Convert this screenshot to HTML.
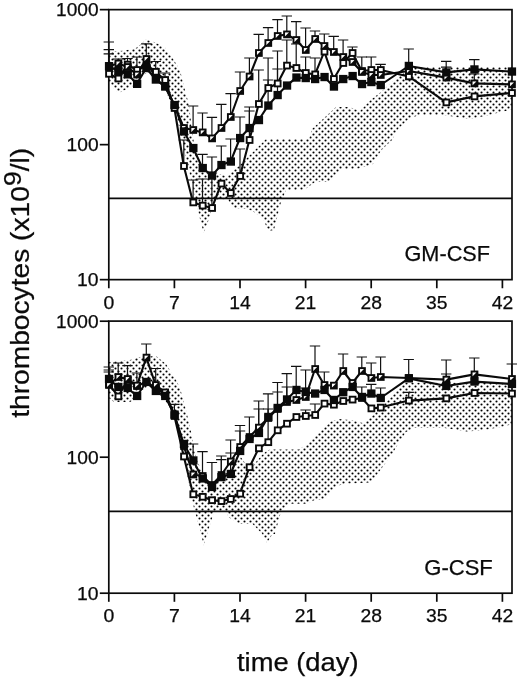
<!DOCTYPE html><html><head><meta charset="utf-8"><title>thrombocytes</title>
<style>html,body{margin:0;padding:0;background:#fff}svg{display:block}text{font-family:"Liberation Sans",Arial,Helvetica,sans-serif;fill:#0a0a0a;stroke:#0a0a0a;stroke-width:0.25}</style></head><body>
<svg width="520" height="680" viewBox="0 0 520 680">
<defs><pattern id="dots" x="0" y="1" width="6" height="6" patternUnits="userSpaceOnUse"><circle cx="1.5" cy="1.5" r="1.08" fill="#000"/><circle cx="4.5" cy="4.5" r="1.08" fill="#000"/></pattern></defs>
<rect width="520" height="680" fill="#fff"/>
<path d="M108.8,51.5 L123.0,50.8 L135.4,48.5 L141.5,43.8 L146.0,39.5 L153.8,42.0 L164.6,47.0 L172.3,57.7 L180.0,70.0 L184.0,86.5 L189.0,105.0 L191.5,126.0 L194.5,147.0 L201.0,166.0 L209.0,171.0 L226.0,176.0 L239.0,166.0 L250.0,155.0 L266.0,139.0 L309.0,139.0 L312.0,129.0 L323.0,119.0 L336.0,107.0 L349.0,107.0 L360.0,111.0 L370.6,100.0 L381.0,92.0 L392.0,82.0 L400.6,74.0 L411.0,67.0 L512.0,67.0 L512.0,109.5 L501.0,112.0 L485.0,116.0 L469.0,119.0 L443.0,115.0 L419.0,115.0 L408.5,119.0 L398.0,129.0 L392.0,140.0 L381.0,150.6 L373.0,164.0 L357.0,169.0 L341.5,169.0 L328.0,182.0 L315.0,182.0 L304.0,190.0 L286.0,190.0 L280.6,203.5 L274.0,230.0 L268.5,231.0 L263.0,219.0 L252.6,211.0 L247.0,209.0 L232.0,208.0 L228.0,199.0 L214.0,200.0 L209.0,219.0 L203.7,233.0 L200.0,219.0 L194.0,192.0 L186.5,160.0 L176.0,113.0 L165.0,90.0 L157.0,80.0 L150.0,72.0 L142.0,75.0 L137.0,84.0 L131.0,87.0 L118.5,93.0 L112.0,87.0 L108.8,81.0Z" fill="url(#dots)" stroke="none"/>
<line x1="108.8" y1="198.37" x2="512.0" y2="198.37" stroke="#0a0a0a" stroke-width="1.7"/>
<rect x="108.8" y="9.65" width="403.2" height="270.00" fill="none" stroke="#0a0a0a" stroke-width="1.7"/>
<path d="M108.8,73.8 V49.7 M103.6,49.7 H114.0" stroke="#111" stroke-width="1.2" fill="none"/>
<path d="M127.5,64.6 V58.5 M122.3,58.5 H132.7" stroke="#111" stroke-width="1.2" fill="none"/>
<path d="M136.9,70.0 V57.0 M131.7,57.0 H142.1" stroke="#111" stroke-width="1.2" fill="none"/>
<path d="M183.8,166.0 V140.0 M178.6,140.0 H189.0" stroke="#111" stroke-width="1.2" fill="none"/>
<path d="M193.1,202.4 V180.0 M187.9,180.0 H198.3" stroke="#111" stroke-width="1.2" fill="none"/>
<path d="M202.5,205.6 V179.0 M197.3,179.0 H207.7" stroke="#111" stroke-width="1.2" fill="none"/>
<path d="M211.9,208.0 V173.0 M206.7,173.0 H217.1" stroke="#111" stroke-width="1.2" fill="none"/>
<path d="M240.0,176.0 V149.0 M234.8,149.0 H245.2" stroke="#111" stroke-width="1.2" fill="none"/>
<path d="M249.4,140.0 V111.0 M244.2,111.0 H254.6" stroke="#111" stroke-width="1.2" fill="none"/>
<path d="M258.7,104.0 V70.0 M253.5,70.0 H263.9" stroke="#111" stroke-width="1.2" fill="none"/>
<path d="M268.1,88.0 V58.0 M262.9,58.0 H273.3" stroke="#111" stroke-width="1.2" fill="none"/>
<path d="M277.5,83.5 V51.0 M272.3,51.0 H282.7" stroke="#111" stroke-width="1.2" fill="none"/>
<path d="M286.8,65.6 V40.0 M281.6,40.0 H292.0" stroke="#111" stroke-width="1.2" fill="none"/>
<path d="M296.2,68.0 V44.0 M291.0,44.0 H301.4" stroke="#111" stroke-width="1.2" fill="none"/>
<path d="M305.6,73.0 V57.0 M300.4,57.0 H310.8" stroke="#111" stroke-width="1.2" fill="none"/>
<path d="M315.0,74.4 V58.0 M309.8,58.0 H320.2" stroke="#111" stroke-width="1.2" fill="none"/>
<path d="M352.4,53.0 V47.0 M347.2,47.0 H357.6" stroke="#111" stroke-width="1.2" fill="none"/>
<path d="M371.2,70.0 V57.0 M366.0,57.0 H376.4" stroke="#111" stroke-width="1.2" fill="none"/>
<path d="M380.6,70.0 V64.4 M375.4,64.4 H385.8" stroke="#111" stroke-width="1.2" fill="none"/>
<path d="M108.8,66.0 V42.0 M103.6,42.0 H114.0" stroke="#111" stroke-width="1.2" fill="none"/>
<path d="M118.2,63.5 V59.0 M113.0,59.0 H123.4" stroke="#111" stroke-width="1.2" fill="none"/>
<path d="M146.3,59.0 V43.8 M141.1,43.8 H151.5" stroke="#111" stroke-width="1.2" fill="none"/>
<path d="M155.7,79.0 V61.5 M150.5,61.5 H160.9" stroke="#111" stroke-width="1.2" fill="none"/>
<path d="M165.0,86.2 V73.0 M159.8,73.0 H170.2" stroke="#111" stroke-width="1.2" fill="none"/>
<path d="M193.1,130.0 V106.0 M187.9,106.0 H198.3" stroke="#111" stroke-width="1.2" fill="none"/>
<path d="M202.5,132.4 V113.0 M197.3,113.0 H207.7" stroke="#111" stroke-width="1.2" fill="none"/>
<path d="M211.9,138.4 V117.4 M206.7,117.4 H217.1" stroke="#111" stroke-width="1.2" fill="none"/>
<path d="M221.3,128.0 V104.4 M216.1,104.4 H226.5" stroke="#111" stroke-width="1.2" fill="none"/>
<path d="M230.6,117.0 V93.6 M225.4,93.6 H235.8" stroke="#111" stroke-width="1.2" fill="none"/>
<path d="M240.0,91.0 V72.0 M234.8,72.0 H245.2" stroke="#111" stroke-width="1.2" fill="none"/>
<path d="M249.4,76.5 V58.0 M244.2,58.0 H254.6" stroke="#111" stroke-width="1.2" fill="none"/>
<path d="M258.7,53.0 V34.4 M253.5,34.4 H263.9" stroke="#111" stroke-width="1.2" fill="none"/>
<path d="M268.1,43.0 V27.6 M262.9,27.6 H273.3" stroke="#111" stroke-width="1.2" fill="none"/>
<path d="M277.5,36.0 V19.6 M272.3,19.6 H282.7" stroke="#111" stroke-width="1.2" fill="none"/>
<path d="M286.8,34.4 V16.0 M281.6,16.0 H292.0" stroke="#111" stroke-width="1.2" fill="none"/>
<path d="M296.2,40.0 V21.6 M291.0,21.6 H301.4" stroke="#111" stroke-width="1.2" fill="none"/>
<path d="M305.6,50.0 V28.0 M300.4,28.0 H310.8" stroke="#111" stroke-width="1.2" fill="none"/>
<path d="M315.0,39.0 V31.0 M309.8,31.0 H320.2" stroke="#111" stroke-width="1.2" fill="none"/>
<path d="M324.3,46.0 V34.0 M319.1,34.0 H329.5" stroke="#111" stroke-width="1.2" fill="none"/>
<path d="M333.7,52.0 V36.4 M328.5,36.4 H338.9" stroke="#111" stroke-width="1.2" fill="none"/>
<path d="M343.1,57.0 V40.0 M337.9,40.0 H348.3" stroke="#111" stroke-width="1.2" fill="none"/>
<path d="M361.8,72.0 V57.0 M356.6,57.0 H367.0" stroke="#111" stroke-width="1.2" fill="none"/>
<path d="M446.2,77.6 V67.2 M441.0,67.2 H451.4" stroke="#111" stroke-width="1.2" fill="none"/>
<path d="M474.3,83.4 V74.0 M469.1,74.0 H479.5" stroke="#111" stroke-width="1.2" fill="none"/>
<path d="M108.8,66.2 V53.8 M103.6,53.8 H114.0" stroke="#111" stroke-width="1.2" fill="none"/>
<path d="M202.5,168.0 V154.4 M197.3,154.4 H207.7" stroke="#111" stroke-width="1.2" fill="none"/>
<path d="M211.9,175.6 V157.0 M206.7,157.0 H217.1" stroke="#111" stroke-width="1.2" fill="none"/>
<path d="M221.3,165.0 V146.0 M216.1,146.0 H226.5" stroke="#111" stroke-width="1.2" fill="none"/>
<path d="M230.6,161.6 V139.0 M225.4,139.0 H235.8" stroke="#111" stroke-width="1.2" fill="none"/>
<path d="M240.0,138.0 V117.0 M234.8,117.0 H245.2" stroke="#111" stroke-width="1.2" fill="none"/>
<path d="M249.4,128.0 V107.0 M244.2,107.0 H254.6" stroke="#111" stroke-width="1.2" fill="none"/>
<path d="M268.1,105.6 V80.0 M262.9,80.0 H273.3" stroke="#111" stroke-width="1.2" fill="none"/>
<path d="M277.5,95.0 V69.0 M272.3,69.0 H282.7" stroke="#111" stroke-width="1.2" fill="none"/>
<path d="M408.7,66.0 V49.0 M403.5,49.0 H413.9" stroke="#111" stroke-width="1.2" fill="none"/>
<path d="M446.2,72.4 V61.4 M441.0,61.4 H451.4" stroke="#111" stroke-width="1.2" fill="none"/>
<path d="M474.3,69.4 V59.6 M469.1,59.6 H479.5" stroke="#111" stroke-width="1.2" fill="none"/>
<polyline points="108.8,73.8 118.2,78.5 127.5,64.6 136.9,70.0 146.3,66.0 155.7,71.8 165.0,80.0 174.4,108.0 183.8,166.0 193.1,202.4 202.5,205.6 211.9,208.0 221.3,183.6 230.6,193.0 240.0,176.0 249.4,140.0 258.7,104.0 268.1,88.0 277.5,83.5 286.8,65.6 296.2,68.0 305.6,73.0 315.0,74.4 324.3,51.6 333.7,79.0 343.1,63.0 352.4,53.0 361.8,71.0 371.2,70.0 380.6,70.0 408.7,76.4 446.2,102.4 474.3,96.4 511.8,93.0" fill="none" stroke="#0a0a0a" stroke-width="2.1" stroke-linejoin="round"/>
<polyline points="108.8,66.0 118.2,63.5 127.5,67.0 136.9,74.6 146.3,59.0 155.7,79.0 165.0,86.2 174.4,105.0 183.8,128.0 193.1,130.0 202.5,132.4 211.9,138.4 221.3,128.0 230.6,117.0 240.0,91.0 249.4,76.5 258.7,53.0 268.1,43.0 277.5,36.0 286.8,34.4 296.2,40.0 305.6,50.0 315.0,39.0 324.3,46.0 333.7,52.0 343.1,57.0 352.4,62.0 361.8,72.0 371.2,75.0 380.6,75.0 408.7,71.0 446.2,77.6 474.3,83.4 511.8,84.4" fill="none" stroke="#0a0a0a" stroke-width="2.1" stroke-linejoin="round"/>
<polyline points="108.8,66.2 118.2,71.0 127.5,74.3 136.9,83.8 146.3,68.0 155.7,79.5 165.0,86.6 174.4,105.0 183.8,131.4 193.1,148.0 202.5,168.0 211.9,175.6 221.3,165.0 230.6,161.6 240.0,138.0 249.4,128.0 258.7,120.0 268.1,105.6 277.5,95.0 286.8,85.6 296.2,77.6 305.6,78.0 315.0,79.0 324.3,77.0 333.7,86.5 343.1,79.0 352.4,76.0 361.8,84.0 371.2,82.0 380.6,85.0 408.7,66.0 446.2,72.4 474.3,69.4 511.8,71.6" fill="none" stroke="#0a0a0a" stroke-width="2.1" stroke-linejoin="round"/>
<rect x="106.1" y="70.9" width="5.8" height="5.8" fill="#fff" stroke="#0a0a0a" stroke-width="1.9"/>
<rect x="115.5" y="75.6" width="5.8" height="5.8" fill="#fff" stroke="#0a0a0a" stroke-width="1.9"/>
<rect x="124.8" y="61.7" width="5.8" height="5.8" fill="#fff" stroke="#0a0a0a" stroke-width="1.9"/>
<rect x="134.2" y="67.1" width="5.8" height="5.8" fill="#fff" stroke="#0a0a0a" stroke-width="1.9"/>
<rect x="143.6" y="63.1" width="5.8" height="5.8" fill="#fff" stroke="#0a0a0a" stroke-width="1.9"/>
<rect x="153.0" y="68.9" width="5.8" height="5.8" fill="#fff" stroke="#0a0a0a" stroke-width="1.9"/>
<rect x="162.3" y="77.1" width="5.8" height="5.8" fill="#fff" stroke="#0a0a0a" stroke-width="1.9"/>
<rect x="171.7" y="105.1" width="5.8" height="5.8" fill="#fff" stroke="#0a0a0a" stroke-width="1.9"/>
<rect x="181.1" y="163.1" width="5.8" height="5.8" fill="#fff" stroke="#0a0a0a" stroke-width="1.9"/>
<rect x="190.4" y="199.5" width="5.8" height="5.8" fill="#fff" stroke="#0a0a0a" stroke-width="1.9"/>
<rect x="199.8" y="202.7" width="5.8" height="5.8" fill="#fff" stroke="#0a0a0a" stroke-width="1.9"/>
<rect x="209.2" y="205.1" width="5.8" height="5.8" fill="#fff" stroke="#0a0a0a" stroke-width="1.9"/>
<rect x="218.6" y="180.7" width="5.8" height="5.8" fill="#fff" stroke="#0a0a0a" stroke-width="1.9"/>
<rect x="227.9" y="190.1" width="5.8" height="5.8" fill="#fff" stroke="#0a0a0a" stroke-width="1.9"/>
<rect x="237.3" y="173.1" width="5.8" height="5.8" fill="#fff" stroke="#0a0a0a" stroke-width="1.9"/>
<rect x="246.7" y="137.1" width="5.8" height="5.8" fill="#fff" stroke="#0a0a0a" stroke-width="1.9"/>
<rect x="256.0" y="101.1" width="5.8" height="5.8" fill="#fff" stroke="#0a0a0a" stroke-width="1.9"/>
<rect x="265.4" y="85.1" width="5.8" height="5.8" fill="#fff" stroke="#0a0a0a" stroke-width="1.9"/>
<rect x="274.8" y="80.6" width="5.8" height="5.8" fill="#fff" stroke="#0a0a0a" stroke-width="1.9"/>
<rect x="284.1" y="62.7" width="5.8" height="5.8" fill="#fff" stroke="#0a0a0a" stroke-width="1.9"/>
<rect x="293.5" y="65.1" width="5.8" height="5.8" fill="#fff" stroke="#0a0a0a" stroke-width="1.9"/>
<rect x="302.9" y="70.1" width="5.8" height="5.8" fill="#fff" stroke="#0a0a0a" stroke-width="1.9"/>
<rect x="312.3" y="71.5" width="5.8" height="5.8" fill="#fff" stroke="#0a0a0a" stroke-width="1.9"/>
<rect x="321.6" y="48.7" width="5.8" height="5.8" fill="#fff" stroke="#0a0a0a" stroke-width="1.9"/>
<rect x="331.0" y="76.1" width="5.8" height="5.8" fill="#fff" stroke="#0a0a0a" stroke-width="1.9"/>
<rect x="340.4" y="60.1" width="5.8" height="5.8" fill="#fff" stroke="#0a0a0a" stroke-width="1.9"/>
<rect x="349.7" y="50.1" width="5.8" height="5.8" fill="#fff" stroke="#0a0a0a" stroke-width="1.9"/>
<rect x="359.1" y="68.1" width="5.8" height="5.8" fill="#fff" stroke="#0a0a0a" stroke-width="1.9"/>
<rect x="368.5" y="67.1" width="5.8" height="5.8" fill="#fff" stroke="#0a0a0a" stroke-width="1.9"/>
<rect x="377.9" y="67.1" width="5.8" height="5.8" fill="#fff" stroke="#0a0a0a" stroke-width="1.9"/>
<rect x="406.0" y="73.5" width="5.8" height="5.8" fill="#fff" stroke="#0a0a0a" stroke-width="1.9"/>
<rect x="443.5" y="99.5" width="5.8" height="5.8" fill="#fff" stroke="#0a0a0a" stroke-width="1.9"/>
<rect x="471.6" y="93.5" width="5.8" height="5.8" fill="#fff" stroke="#0a0a0a" stroke-width="1.9"/>
<rect x="509.1" y="90.1" width="5.8" height="5.8" fill="#fff" stroke="#0a0a0a" stroke-width="1.9"/>
<rect x="106.1" y="63.1" width="5.8" height="5.8" fill="#fff" stroke="#0a0a0a" stroke-width="1.9"/>
<path d="M111.9,63.1 L111.9,68.9 L106.1,68.9 Z" fill="#0a0a0a"/>
<rect x="115.5" y="60.6" width="5.8" height="5.8" fill="#fff" stroke="#0a0a0a" stroke-width="1.9"/>
<path d="M121.3,60.6 L121.3,66.4 L115.5,66.4 Z" fill="#0a0a0a"/>
<rect x="124.8" y="64.1" width="5.8" height="5.8" fill="#fff" stroke="#0a0a0a" stroke-width="1.9"/>
<path d="M130.6,64.1 L130.6,69.9 L124.8,69.9 Z" fill="#0a0a0a"/>
<rect x="134.2" y="71.7" width="5.8" height="5.8" fill="#fff" stroke="#0a0a0a" stroke-width="1.9"/>
<path d="M140.0,71.7 L140.0,77.5 L134.2,77.5 Z" fill="#0a0a0a"/>
<rect x="143.6" y="56.1" width="5.8" height="5.8" fill="#fff" stroke="#0a0a0a" stroke-width="1.9"/>
<path d="M149.4,56.1 L149.4,61.9 L143.6,61.9 Z" fill="#0a0a0a"/>
<rect x="153.0" y="76.1" width="5.8" height="5.8" fill="#fff" stroke="#0a0a0a" stroke-width="1.9"/>
<path d="M158.8,76.1 L158.8,81.9 L153.0,81.9 Z" fill="#0a0a0a"/>
<rect x="162.3" y="83.3" width="5.8" height="5.8" fill="#fff" stroke="#0a0a0a" stroke-width="1.9"/>
<path d="M168.1,83.3 L168.1,89.1 L162.3,89.1 Z" fill="#0a0a0a"/>
<rect x="171.7" y="102.1" width="5.8" height="5.8" fill="#fff" stroke="#0a0a0a" stroke-width="1.9"/>
<path d="M177.5,102.1 L177.5,107.9 L171.7,107.9 Z" fill="#0a0a0a"/>
<rect x="181.1" y="125.1" width="5.8" height="5.8" fill="#fff" stroke="#0a0a0a" stroke-width="1.9"/>
<path d="M186.9,125.1 L186.9,130.9 L181.1,130.9 Z" fill="#0a0a0a"/>
<rect x="190.4" y="127.1" width="5.8" height="5.8" fill="#fff" stroke="#0a0a0a" stroke-width="1.9"/>
<path d="M196.2,127.1 L196.2,132.9 L190.4,132.9 Z" fill="#0a0a0a"/>
<rect x="199.8" y="129.5" width="5.8" height="5.8" fill="#fff" stroke="#0a0a0a" stroke-width="1.9"/>
<path d="M205.6,129.5 L205.6,135.3 L199.8,135.3 Z" fill="#0a0a0a"/>
<rect x="209.2" y="135.5" width="5.8" height="5.8" fill="#fff" stroke="#0a0a0a" stroke-width="1.9"/>
<path d="M215.0,135.5 L215.0,141.3 L209.2,141.3 Z" fill="#0a0a0a"/>
<rect x="218.6" y="125.1" width="5.8" height="5.8" fill="#fff" stroke="#0a0a0a" stroke-width="1.9"/>
<path d="M224.4,125.1 L224.4,130.9 L218.6,130.9 Z" fill="#0a0a0a"/>
<rect x="227.9" y="114.1" width="5.8" height="5.8" fill="#fff" stroke="#0a0a0a" stroke-width="1.9"/>
<path d="M233.7,114.1 L233.7,119.9 L227.9,119.9 Z" fill="#0a0a0a"/>
<rect x="237.3" y="88.1" width="5.8" height="5.8" fill="#fff" stroke="#0a0a0a" stroke-width="1.9"/>
<path d="M243.1,88.1 L243.1,93.9 L237.3,93.9 Z" fill="#0a0a0a"/>
<rect x="246.7" y="73.6" width="5.8" height="5.8" fill="#fff" stroke="#0a0a0a" stroke-width="1.9"/>
<path d="M252.5,73.6 L252.5,79.4 L246.7,79.4 Z" fill="#0a0a0a"/>
<rect x="256.0" y="50.1" width="5.8" height="5.8" fill="#fff" stroke="#0a0a0a" stroke-width="1.9"/>
<path d="M261.8,50.1 L261.8,55.9 L256.0,55.9 Z" fill="#0a0a0a"/>
<rect x="265.4" y="40.1" width="5.8" height="5.8" fill="#fff" stroke="#0a0a0a" stroke-width="1.9"/>
<path d="M271.2,40.1 L271.2,45.9 L265.4,45.9 Z" fill="#0a0a0a"/>
<rect x="274.8" y="33.1" width="5.8" height="5.8" fill="#fff" stroke="#0a0a0a" stroke-width="1.9"/>
<path d="M280.6,33.1 L280.6,38.9 L274.8,38.9 Z" fill="#0a0a0a"/>
<rect x="284.1" y="31.5" width="5.8" height="5.8" fill="#fff" stroke="#0a0a0a" stroke-width="1.9"/>
<path d="M289.9,31.5 L289.9,37.3 L284.1,37.3 Z" fill="#0a0a0a"/>
<rect x="293.5" y="37.1" width="5.8" height="5.8" fill="#fff" stroke="#0a0a0a" stroke-width="1.9"/>
<path d="M299.3,37.1 L299.3,42.9 L293.5,42.9 Z" fill="#0a0a0a"/>
<rect x="302.9" y="47.1" width="5.8" height="5.8" fill="#fff" stroke="#0a0a0a" stroke-width="1.9"/>
<path d="M308.7,47.1 L308.7,52.9 L302.9,52.9 Z" fill="#0a0a0a"/>
<rect x="312.3" y="36.1" width="5.8" height="5.8" fill="#fff" stroke="#0a0a0a" stroke-width="1.9"/>
<path d="M318.1,36.1 L318.1,41.9 L312.3,41.9 Z" fill="#0a0a0a"/>
<rect x="321.6" y="43.1" width="5.8" height="5.8" fill="#fff" stroke="#0a0a0a" stroke-width="1.9"/>
<path d="M327.4,43.1 L327.4,48.9 L321.6,48.9 Z" fill="#0a0a0a"/>
<rect x="331.0" y="49.1" width="5.8" height="5.8" fill="#fff" stroke="#0a0a0a" stroke-width="1.9"/>
<path d="M336.8,49.1 L336.8,54.9 L331.0,54.9 Z" fill="#0a0a0a"/>
<rect x="340.4" y="54.1" width="5.8" height="5.8" fill="#fff" stroke="#0a0a0a" stroke-width="1.9"/>
<path d="M346.2,54.1 L346.2,59.9 L340.4,59.9 Z" fill="#0a0a0a"/>
<rect x="349.7" y="59.1" width="5.8" height="5.8" fill="#fff" stroke="#0a0a0a" stroke-width="1.9"/>
<path d="M355.5,59.1 L355.5,64.9 L349.7,64.9 Z" fill="#0a0a0a"/>
<rect x="359.1" y="69.1" width="5.8" height="5.8" fill="#fff" stroke="#0a0a0a" stroke-width="1.9"/>
<path d="M364.9,69.1 L364.9,74.9 L359.1,74.9 Z" fill="#0a0a0a"/>
<rect x="368.5" y="72.1" width="5.8" height="5.8" fill="#fff" stroke="#0a0a0a" stroke-width="1.9"/>
<path d="M374.3,72.1 L374.3,77.9 L368.5,77.9 Z" fill="#0a0a0a"/>
<rect x="377.9" y="72.1" width="5.8" height="5.8" fill="#fff" stroke="#0a0a0a" stroke-width="1.9"/>
<path d="M383.7,72.1 L383.7,77.9 L377.9,77.9 Z" fill="#0a0a0a"/>
<rect x="406.0" y="68.1" width="5.8" height="5.8" fill="#fff" stroke="#0a0a0a" stroke-width="1.9"/>
<path d="M411.8,68.1 L411.8,73.9 L406.0,73.9 Z" fill="#0a0a0a"/>
<rect x="443.5" y="74.7" width="5.8" height="5.8" fill="#fff" stroke="#0a0a0a" stroke-width="1.9"/>
<path d="M449.3,74.7 L449.3,80.5 L443.5,80.5 Z" fill="#0a0a0a"/>
<rect x="471.6" y="80.5" width="5.8" height="5.8" fill="#fff" stroke="#0a0a0a" stroke-width="1.9"/>
<path d="M477.4,80.5 L477.4,86.3 L471.6,86.3 Z" fill="#0a0a0a"/>
<rect x="509.1" y="81.5" width="5.8" height="5.8" fill="#fff" stroke="#0a0a0a" stroke-width="1.9"/>
<path d="M514.9,81.5 L514.9,87.3 L509.1,87.3 Z" fill="#0a0a0a"/>
<rect x="105.7" y="62.9" width="6.7" height="6.7" fill="#0a0a0a" stroke="#0a0a0a" stroke-width="1.6"/>
<rect x="115.0" y="67.7" width="6.7" height="6.7" fill="#0a0a0a" stroke="#0a0a0a" stroke-width="1.6"/>
<rect x="124.4" y="71.0" width="6.7" height="6.7" fill="#0a0a0a" stroke="#0a0a0a" stroke-width="1.6"/>
<rect x="133.8" y="80.5" width="6.7" height="6.7" fill="#0a0a0a" stroke="#0a0a0a" stroke-width="1.6"/>
<rect x="143.1" y="64.7" width="6.7" height="6.7" fill="#0a0a0a" stroke="#0a0a0a" stroke-width="1.6"/>
<rect x="152.5" y="76.2" width="6.7" height="6.7" fill="#0a0a0a" stroke="#0a0a0a" stroke-width="1.6"/>
<rect x="161.9" y="83.2" width="6.7" height="6.7" fill="#0a0a0a" stroke="#0a0a0a" stroke-width="1.6"/>
<rect x="171.2" y="101.7" width="6.7" height="6.7" fill="#0a0a0a" stroke="#0a0a0a" stroke-width="1.6"/>
<rect x="180.6" y="128.1" width="6.7" height="6.7" fill="#0a0a0a" stroke="#0a0a0a" stroke-width="1.6"/>
<rect x="190.0" y="144.7" width="6.7" height="6.7" fill="#0a0a0a" stroke="#0a0a0a" stroke-width="1.6"/>
<rect x="199.4" y="164.7" width="6.7" height="6.7" fill="#0a0a0a" stroke="#0a0a0a" stroke-width="1.6"/>
<rect x="208.7" y="172.2" width="6.7" height="6.7" fill="#0a0a0a" stroke="#0a0a0a" stroke-width="1.6"/>
<rect x="218.1" y="161.7" width="6.7" height="6.7" fill="#0a0a0a" stroke="#0a0a0a" stroke-width="1.6"/>
<rect x="227.5" y="158.2" width="6.7" height="6.7" fill="#0a0a0a" stroke="#0a0a0a" stroke-width="1.6"/>
<rect x="236.8" y="134.7" width="6.7" height="6.7" fill="#0a0a0a" stroke="#0a0a0a" stroke-width="1.6"/>
<rect x="246.2" y="124.7" width="6.7" height="6.7" fill="#0a0a0a" stroke="#0a0a0a" stroke-width="1.6"/>
<rect x="255.6" y="116.7" width="6.7" height="6.7" fill="#0a0a0a" stroke="#0a0a0a" stroke-width="1.6"/>
<rect x="265.0" y="102.2" width="6.7" height="6.7" fill="#0a0a0a" stroke="#0a0a0a" stroke-width="1.6"/>
<rect x="274.3" y="91.7" width="6.7" height="6.7" fill="#0a0a0a" stroke="#0a0a0a" stroke-width="1.6"/>
<rect x="283.7" y="82.2" width="6.7" height="6.7" fill="#0a0a0a" stroke="#0a0a0a" stroke-width="1.6"/>
<rect x="293.1" y="74.2" width="6.7" height="6.7" fill="#0a0a0a" stroke="#0a0a0a" stroke-width="1.6"/>
<rect x="302.4" y="74.7" width="6.7" height="6.7" fill="#0a0a0a" stroke="#0a0a0a" stroke-width="1.6"/>
<rect x="311.8" y="75.7" width="6.7" height="6.7" fill="#0a0a0a" stroke="#0a0a0a" stroke-width="1.6"/>
<rect x="321.2" y="73.7" width="6.7" height="6.7" fill="#0a0a0a" stroke="#0a0a0a" stroke-width="1.6"/>
<rect x="330.6" y="83.2" width="6.7" height="6.7" fill="#0a0a0a" stroke="#0a0a0a" stroke-width="1.6"/>
<rect x="339.9" y="75.7" width="6.7" height="6.7" fill="#0a0a0a" stroke="#0a0a0a" stroke-width="1.6"/>
<rect x="349.3" y="72.7" width="6.7" height="6.7" fill="#0a0a0a" stroke="#0a0a0a" stroke-width="1.6"/>
<rect x="358.7" y="80.7" width="6.7" height="6.7" fill="#0a0a0a" stroke="#0a0a0a" stroke-width="1.6"/>
<rect x="368.0" y="78.7" width="6.7" height="6.7" fill="#0a0a0a" stroke="#0a0a0a" stroke-width="1.6"/>
<rect x="377.4" y="81.7" width="6.7" height="6.7" fill="#0a0a0a" stroke="#0a0a0a" stroke-width="1.6"/>
<rect x="405.5" y="62.6" width="6.7" height="6.7" fill="#0a0a0a" stroke="#0a0a0a" stroke-width="1.6"/>
<rect x="443.0" y="69.1" width="6.7" height="6.7" fill="#0a0a0a" stroke="#0a0a0a" stroke-width="1.6"/>
<rect x="471.1" y="66.1" width="6.7" height="6.7" fill="#0a0a0a" stroke="#0a0a0a" stroke-width="1.6"/>
<rect x="508.6" y="68.2" width="6.7" height="6.7" fill="#0a0a0a" stroke="#0a0a0a" stroke-width="1.6"/>
<line x1="99.8" y1="9.65" x2="108.8" y2="9.65" stroke="#0a0a0a" stroke-width="1.7"/>
<text x="98.6" y="16.2" font-size="18.4" text-anchor="end" textLength="42.5" lengthAdjust="spacingAndGlyphs">1000</text>
<line x1="99.8" y1="144.65" x2="108.8" y2="144.65" stroke="#0a0a0a" stroke-width="1.7"/>
<text x="98.6" y="151.2" font-size="18.4" text-anchor="end" textLength="32.0" lengthAdjust="spacingAndGlyphs">100</text>
<line x1="99.8" y1="279.65" x2="108.8" y2="279.65" stroke="#0a0a0a" stroke-width="1.7"/>
<text x="98.6" y="286.2" font-size="18.4" text-anchor="end" textLength="21.5" lengthAdjust="spacingAndGlyphs">10</text>
<line x1="108.8" y1="279.65" x2="108.8" y2="288.25" stroke="#0a0a0a" stroke-width="1.7"/>
<text x="108.8" y="308.8" font-size="18.4" text-anchor="middle" textLength="10.8" lengthAdjust="spacingAndGlyphs">0</text>
<line x1="174.4" y1="279.65" x2="174.4" y2="288.25" stroke="#0a0a0a" stroke-width="1.7"/>
<text x="174.4" y="308.8" font-size="18.4" text-anchor="middle" textLength="10.8" lengthAdjust="spacingAndGlyphs">7</text>
<line x1="240.0" y1="279.65" x2="240.0" y2="288.25" stroke="#0a0a0a" stroke-width="1.7"/>
<text x="240.0" y="308.8" font-size="18.4" text-anchor="middle" textLength="21.5" lengthAdjust="spacingAndGlyphs">14</text>
<line x1="305.6" y1="279.65" x2="305.6" y2="288.25" stroke="#0a0a0a" stroke-width="1.7"/>
<text x="305.6" y="308.8" font-size="18.4" text-anchor="middle" textLength="21.5" lengthAdjust="spacingAndGlyphs">21</text>
<line x1="371.2" y1="279.65" x2="371.2" y2="288.25" stroke="#0a0a0a" stroke-width="1.7"/>
<text x="371.2" y="308.8" font-size="18.4" text-anchor="middle" textLength="21.5" lengthAdjust="spacingAndGlyphs">28</text>
<line x1="436.8" y1="279.65" x2="436.8" y2="288.25" stroke="#0a0a0a" stroke-width="1.7"/>
<text x="436.8" y="308.8" font-size="18.4" text-anchor="middle" textLength="21.5" lengthAdjust="spacingAndGlyphs">35</text>
<line x1="502.4" y1="279.65" x2="502.4" y2="288.25" stroke="#0a0a0a" stroke-width="1.7"/>
<text x="502.4" y="308.8" font-size="18.4" text-anchor="middle" textLength="21.5" lengthAdjust="spacingAndGlyphs">42</text>
<text x="404.5" y="261.1" font-size="21.6" textLength="85.5" lengthAdjust="spacingAndGlyphs">GM-CSF</text>
<path d="M108.8,362.0 L130.0,360.0 L140.0,357.0 L156.0,356.0 L166.0,364.0 L176.0,380.0 L180.0,388.0 L186.5,412.0 L191.5,434.0 L195.7,456.0 L201.0,470.0 L212.0,487.0 L221.0,478.0 L230.0,470.0 L240.0,456.0 L250.0,470.0 L256.0,462.0 L262.0,455.0 L266.0,451.5 L270.0,449.4 L299.0,449.4 L307.0,444.0 L317.6,433.5 L331.0,421.6 L339.0,419.0 L352.0,420.3 L362.6,423.0 L370.6,417.6 L381.0,407.0 L391.8,396.5 L400.6,386.0 L406.0,382.7 L512.0,382.7 L512.0,424.3 L501.0,427.0 L482.6,430.3 L466.8,431.4 L443.0,427.7 L414.0,428.0 L406.0,432.0 L398.0,444.0 L391.8,454.7 L383.8,465.3 L376.0,476.0 L370.6,482.5 L344.0,483.8 L336.0,486.5 L328.0,494.4 L323.0,499.7 L315.0,499.7 L307.0,503.7 L288.5,503.7 L284.6,507.6 L280.6,513.0 L275.0,534.0 L272.5,534.0 L267.0,542.8 L262.0,533.5 L252.6,524.0 L239.4,524.0 L229.0,517.6 L226.0,512.0 L214.0,512.0 L209.0,528.0 L203.7,545.4 L199.7,528.0 L194.4,510.0 L190.0,490.0 L186.5,470.0 L176.0,420.0 L165.0,400.0 L157.0,392.0 L150.0,386.0 L142.0,390.0 L137.0,398.0 L130.0,402.0 L114.0,402.0 L108.8,398.0Z" fill="url(#dots)" stroke="none"/>
<line x1="108.8" y1="511.32" x2="512.0" y2="511.32" stroke="#0a0a0a" stroke-width="1.7"/>
<rect x="108.8" y="321.10" width="403.2" height="272.10" fill="none" stroke="#0a0a0a" stroke-width="1.7"/>
<path d="M108.8,384.0 V372.0 M103.6,372.0 H114.0" stroke="#111" stroke-width="1.2" fill="none"/>
<path d="M127.5,380.0 V365.6 M122.3,365.6 H132.7" stroke="#111" stroke-width="1.2" fill="none"/>
<path d="M136.9,386.0 V373.0 M131.7,373.0 H142.1" stroke="#111" stroke-width="1.2" fill="none"/>
<path d="M268.1,442.2 V409.0 M262.9,409.0 H273.3" stroke="#111" stroke-width="1.2" fill="none"/>
<path d="M277.5,430.3 V392.0 M272.3,392.0 H282.7" stroke="#111" stroke-width="1.2" fill="none"/>
<path d="M305.6,416.0 V410.0 M300.4,410.0 H310.8" stroke="#111" stroke-width="1.2" fill="none"/>
<path d="M315.0,415.0 V404.0 M309.8,404.0 H320.2" stroke="#111" stroke-width="1.2" fill="none"/>
<path d="M408.7,400.6 V392.4 M403.5,392.4 H413.9" stroke="#111" stroke-width="1.2" fill="none"/>
<path d="M108.8,385.0 V367.0 M103.6,367.0 H114.0" stroke="#111" stroke-width="1.2" fill="none"/>
<path d="M118.2,377.0 V363.0 M113.0,363.0 H123.4" stroke="#111" stroke-width="1.2" fill="none"/>
<path d="M146.3,357.6 V344.0 M141.1,344.0 H151.5" stroke="#111" stroke-width="1.2" fill="none"/>
<path d="M155.7,385.0 V368.5 M150.5,368.5 H160.9" stroke="#111" stroke-width="1.2" fill="none"/>
<path d="M221.3,475.0 V459.6 M216.1,459.6 H226.5" stroke="#111" stroke-width="1.2" fill="none"/>
<path d="M230.6,461.5 V440.0 M225.4,440.0 H235.8" stroke="#111" stroke-width="1.2" fill="none"/>
<path d="M240.0,447.0 V425.5 M234.8,425.5 H245.2" stroke="#111" stroke-width="1.2" fill="none"/>
<path d="M249.4,437.0 V417.0 M244.2,417.0 H254.6" stroke="#111" stroke-width="1.2" fill="none"/>
<path d="M258.7,427.6 V401.0 M253.5,401.0 H263.9" stroke="#111" stroke-width="1.2" fill="none"/>
<path d="M268.1,418.0 V393.8 M262.9,393.8 H273.3" stroke="#111" stroke-width="1.2" fill="none"/>
<path d="M277.5,409.0 V382.5 M272.3,382.5 H282.7" stroke="#111" stroke-width="1.2" fill="none"/>
<path d="M286.8,402.0 V373.6 M281.6,373.6 H292.0" stroke="#111" stroke-width="1.2" fill="none"/>
<path d="M296.2,400.0 V366.4 M291.0,366.4 H301.4" stroke="#111" stroke-width="1.2" fill="none"/>
<path d="M305.6,397.0 V370.0 M300.4,370.0 H310.8" stroke="#111" stroke-width="1.2" fill="none"/>
<path d="M315.0,369.0 V346.0 M309.8,346.0 H320.2" stroke="#111" stroke-width="1.2" fill="none"/>
<path d="M324.3,385.0 V372.0 M319.1,372.0 H329.5" stroke="#111" stroke-width="1.2" fill="none"/>
<path d="M343.1,371.0 V354.0 M337.9,354.0 H348.3" stroke="#111" stroke-width="1.2" fill="none"/>
<path d="M361.8,371.0 V357.0 M356.6,357.0 H367.0" stroke="#111" stroke-width="1.2" fill="none"/>
<path d="M371.2,378.0 V363.0 M366.0,363.0 H376.4" stroke="#111" stroke-width="1.2" fill="none"/>
<path d="M380.6,377.0 V357.0 M375.4,357.0 H385.8" stroke="#111" stroke-width="1.2" fill="none"/>
<path d="M446.2,379.6 V360.0 M441.0,360.0 H451.4" stroke="#111" stroke-width="1.2" fill="none"/>
<path d="M474.3,374.4 V358.0 M469.1,358.0 H479.5" stroke="#111" stroke-width="1.2" fill="none"/>
<path d="M511.8,379.0 V364.0 M506.6,364.0 H517.0" stroke="#111" stroke-width="1.2" fill="none"/>
<path d="M108.8,379.0 V370.0 M103.6,370.0 H114.0" stroke="#111" stroke-width="1.2" fill="none"/>
<path d="M174.4,414.6 V404.4 M169.2,404.4 H179.6" stroke="#111" stroke-width="1.2" fill="none"/>
<path d="M193.1,460.5 V444.0 M187.9,444.0 H198.3" stroke="#111" stroke-width="1.2" fill="none"/>
<path d="M202.5,478.5 V451.6 M197.3,451.6 H207.7" stroke="#111" stroke-width="1.2" fill="none"/>
<path d="M211.9,487.0 V462.5 M206.7,462.5 H217.1" stroke="#111" stroke-width="1.2" fill="none"/>
<path d="M221.3,477.2 V456.0 M216.1,456.0 H226.5" stroke="#111" stroke-width="1.2" fill="none"/>
<path d="M230.6,474.0 V453.0 M225.4,453.0 H235.8" stroke="#111" stroke-width="1.2" fill="none"/>
<path d="M240.0,451.0 V431.0 M234.8,431.0 H245.2" stroke="#111" stroke-width="1.2" fill="none"/>
<path d="M258.7,433.0 V409.0 M253.5,409.0 H263.9" stroke="#111" stroke-width="1.2" fill="none"/>
<path d="M286.8,399.5 V387.0 M281.6,387.0 H292.0" stroke="#111" stroke-width="1.2" fill="none"/>
<path d="M305.6,392.0 V388.0 M300.4,388.0 H310.8" stroke="#111" stroke-width="1.2" fill="none"/>
<path d="M361.8,397.0 V387.0 M356.6,387.0 H367.0" stroke="#111" stroke-width="1.2" fill="none"/>
<path d="M371.2,393.6 V384.4 M366.0,384.4 H376.4" stroke="#111" stroke-width="1.2" fill="none"/>
<path d="M380.6,398.0 V388.0 M375.4,388.0 H385.8" stroke="#111" stroke-width="1.2" fill="none"/>
<path d="M408.7,378.4 V359.5 M403.5,359.5 H413.9" stroke="#111" stroke-width="1.2" fill="none"/>
<path d="M446.2,386.0 V374.0 M441.0,374.0 H451.4" stroke="#111" stroke-width="1.2" fill="none"/>
<polyline points="108.8,384.0 118.2,396.4 127.5,380.0 136.9,386.0 146.3,382.0 155.7,388.0 165.0,394.0 174.4,416.0 183.8,456.5 193.1,494.3 202.5,496.8 211.9,500.2 221.3,501.1 230.6,499.0 240.0,493.7 249.4,467.2 258.7,448.3 268.1,442.2 277.5,430.3 286.8,423.7 296.2,417.0 305.6,416.0 315.0,415.0 324.3,403.6 333.7,404.7 343.1,401.0 352.4,399.6 361.8,398.0 371.2,408.4 380.6,407.6 408.7,400.6 446.2,398.4 474.3,393.0 511.8,393.6" fill="none" stroke="#0a0a0a" stroke-width="2.1" stroke-linejoin="round"/>
<polyline points="108.8,385.0 118.2,377.0 127.5,379.0 136.9,385.6 146.3,357.6 155.7,385.0 165.0,392.4 174.4,415.0 183.8,446.0 193.1,474.5 202.5,476.0 211.9,485.0 221.3,475.0 230.6,461.5 240.0,447.0 249.4,437.0 258.7,427.6 268.1,418.0 277.5,409.0 286.8,402.0 296.2,400.0 305.6,397.0 315.0,369.0 324.3,385.0 333.7,385.6 343.1,371.0 352.4,383.0 361.8,371.0 371.2,378.0 380.6,377.0 408.7,378.0 446.2,379.6 474.3,374.4 511.8,379.0" fill="none" stroke="#0a0a0a" stroke-width="2.1" stroke-linejoin="round"/>
<polyline points="108.8,379.0 118.2,387.0 127.5,388.0 136.9,396.0 146.3,382.0 155.7,391.0 165.0,396.0 174.4,414.6 183.8,444.0 193.1,460.5 202.5,478.5 211.9,487.0 221.3,477.2 230.6,474.0 240.0,451.0 249.4,439.0 258.7,433.0 268.1,417.0 277.5,408.0 286.8,399.5 296.2,390.0 305.6,392.0 315.0,393.6 324.3,390.0 333.7,400.0 343.1,392.3 352.4,387.0 361.8,397.0 371.2,393.6 380.6,398.0 408.7,378.4 446.2,386.0 474.3,381.6 511.8,384.0" fill="none" stroke="#0a0a0a" stroke-width="2.1" stroke-linejoin="round"/>
<rect x="106.1" y="381.1" width="5.8" height="5.8" fill="#fff" stroke="#0a0a0a" stroke-width="1.9"/>
<rect x="115.5" y="393.5" width="5.8" height="5.8" fill="#fff" stroke="#0a0a0a" stroke-width="1.9"/>
<rect x="124.8" y="377.1" width="5.8" height="5.8" fill="#fff" stroke="#0a0a0a" stroke-width="1.9"/>
<rect x="134.2" y="383.1" width="5.8" height="5.8" fill="#fff" stroke="#0a0a0a" stroke-width="1.9"/>
<rect x="143.6" y="379.1" width="5.8" height="5.8" fill="#fff" stroke="#0a0a0a" stroke-width="1.9"/>
<rect x="153.0" y="385.1" width="5.8" height="5.8" fill="#fff" stroke="#0a0a0a" stroke-width="1.9"/>
<rect x="162.3" y="391.1" width="5.8" height="5.8" fill="#fff" stroke="#0a0a0a" stroke-width="1.9"/>
<rect x="171.7" y="413.1" width="5.8" height="5.8" fill="#fff" stroke="#0a0a0a" stroke-width="1.9"/>
<rect x="181.1" y="453.6" width="5.8" height="5.8" fill="#fff" stroke="#0a0a0a" stroke-width="1.9"/>
<rect x="190.4" y="491.4" width="5.8" height="5.8" fill="#fff" stroke="#0a0a0a" stroke-width="1.9"/>
<rect x="199.8" y="493.9" width="5.8" height="5.8" fill="#fff" stroke="#0a0a0a" stroke-width="1.9"/>
<rect x="209.2" y="497.3" width="5.8" height="5.8" fill="#fff" stroke="#0a0a0a" stroke-width="1.9"/>
<rect x="218.6" y="498.2" width="5.8" height="5.8" fill="#fff" stroke="#0a0a0a" stroke-width="1.9"/>
<rect x="227.9" y="496.1" width="5.8" height="5.8" fill="#fff" stroke="#0a0a0a" stroke-width="1.9"/>
<rect x="237.3" y="490.8" width="5.8" height="5.8" fill="#fff" stroke="#0a0a0a" stroke-width="1.9"/>
<rect x="246.7" y="464.3" width="5.8" height="5.8" fill="#fff" stroke="#0a0a0a" stroke-width="1.9"/>
<rect x="256.0" y="445.4" width="5.8" height="5.8" fill="#fff" stroke="#0a0a0a" stroke-width="1.9"/>
<rect x="265.4" y="439.3" width="5.8" height="5.8" fill="#fff" stroke="#0a0a0a" stroke-width="1.9"/>
<rect x="274.8" y="427.4" width="5.8" height="5.8" fill="#fff" stroke="#0a0a0a" stroke-width="1.9"/>
<rect x="284.1" y="420.8" width="5.8" height="5.8" fill="#fff" stroke="#0a0a0a" stroke-width="1.9"/>
<rect x="293.5" y="414.1" width="5.8" height="5.8" fill="#fff" stroke="#0a0a0a" stroke-width="1.9"/>
<rect x="302.9" y="413.1" width="5.8" height="5.8" fill="#fff" stroke="#0a0a0a" stroke-width="1.9"/>
<rect x="312.3" y="412.1" width="5.8" height="5.8" fill="#fff" stroke="#0a0a0a" stroke-width="1.9"/>
<rect x="321.6" y="400.7" width="5.8" height="5.8" fill="#fff" stroke="#0a0a0a" stroke-width="1.9"/>
<rect x="331.0" y="401.8" width="5.8" height="5.8" fill="#fff" stroke="#0a0a0a" stroke-width="1.9"/>
<rect x="340.4" y="398.1" width="5.8" height="5.8" fill="#fff" stroke="#0a0a0a" stroke-width="1.9"/>
<rect x="349.7" y="396.7" width="5.8" height="5.8" fill="#fff" stroke="#0a0a0a" stroke-width="1.9"/>
<rect x="359.1" y="395.1" width="5.8" height="5.8" fill="#fff" stroke="#0a0a0a" stroke-width="1.9"/>
<rect x="368.5" y="405.5" width="5.8" height="5.8" fill="#fff" stroke="#0a0a0a" stroke-width="1.9"/>
<rect x="377.9" y="404.7" width="5.8" height="5.8" fill="#fff" stroke="#0a0a0a" stroke-width="1.9"/>
<rect x="406.0" y="397.7" width="5.8" height="5.8" fill="#fff" stroke="#0a0a0a" stroke-width="1.9"/>
<rect x="443.5" y="395.5" width="5.8" height="5.8" fill="#fff" stroke="#0a0a0a" stroke-width="1.9"/>
<rect x="471.6" y="390.1" width="5.8" height="5.8" fill="#fff" stroke="#0a0a0a" stroke-width="1.9"/>
<rect x="509.1" y="390.7" width="5.8" height="5.8" fill="#fff" stroke="#0a0a0a" stroke-width="1.9"/>
<rect x="106.1" y="382.1" width="5.8" height="5.8" fill="#fff" stroke="#0a0a0a" stroke-width="1.9"/>
<path d="M111.9,382.1 L111.9,387.9 L106.1,387.9 Z" fill="#0a0a0a"/>
<rect x="115.5" y="374.1" width="5.8" height="5.8" fill="#fff" stroke="#0a0a0a" stroke-width="1.9"/>
<path d="M121.3,374.1 L121.3,379.9 L115.5,379.9 Z" fill="#0a0a0a"/>
<rect x="124.8" y="376.1" width="5.8" height="5.8" fill="#fff" stroke="#0a0a0a" stroke-width="1.9"/>
<path d="M130.6,376.1 L130.6,381.9 L124.8,381.9 Z" fill="#0a0a0a"/>
<rect x="134.2" y="382.7" width="5.8" height="5.8" fill="#fff" stroke="#0a0a0a" stroke-width="1.9"/>
<path d="M140.0,382.7 L140.0,388.5 L134.2,388.5 Z" fill="#0a0a0a"/>
<rect x="143.6" y="354.7" width="5.8" height="5.8" fill="#fff" stroke="#0a0a0a" stroke-width="1.9"/>
<path d="M149.4,354.7 L149.4,360.5 L143.6,360.5 Z" fill="#0a0a0a"/>
<rect x="153.0" y="382.1" width="5.8" height="5.8" fill="#fff" stroke="#0a0a0a" stroke-width="1.9"/>
<path d="M158.8,382.1 L158.8,387.9 L153.0,387.9 Z" fill="#0a0a0a"/>
<rect x="162.3" y="389.5" width="5.8" height="5.8" fill="#fff" stroke="#0a0a0a" stroke-width="1.9"/>
<path d="M168.1,389.5 L168.1,395.3 L162.3,395.3 Z" fill="#0a0a0a"/>
<rect x="171.7" y="412.1" width="5.8" height="5.8" fill="#fff" stroke="#0a0a0a" stroke-width="1.9"/>
<path d="M177.5,412.1 L177.5,417.9 L171.7,417.9 Z" fill="#0a0a0a"/>
<rect x="181.1" y="443.1" width="5.8" height="5.8" fill="#fff" stroke="#0a0a0a" stroke-width="1.9"/>
<path d="M186.9,443.1 L186.9,448.9 L181.1,448.9 Z" fill="#0a0a0a"/>
<rect x="190.4" y="471.6" width="5.8" height="5.8" fill="#fff" stroke="#0a0a0a" stroke-width="1.9"/>
<path d="M196.2,471.6 L196.2,477.4 L190.4,477.4 Z" fill="#0a0a0a"/>
<rect x="199.8" y="473.1" width="5.8" height="5.8" fill="#fff" stroke="#0a0a0a" stroke-width="1.9"/>
<path d="M205.6,473.1 L205.6,478.9 L199.8,478.9 Z" fill="#0a0a0a"/>
<rect x="209.2" y="482.1" width="5.8" height="5.8" fill="#fff" stroke="#0a0a0a" stroke-width="1.9"/>
<path d="M215.0,482.1 L215.0,487.9 L209.2,487.9 Z" fill="#0a0a0a"/>
<rect x="218.6" y="472.1" width="5.8" height="5.8" fill="#fff" stroke="#0a0a0a" stroke-width="1.9"/>
<path d="M224.4,472.1 L224.4,477.9 L218.6,477.9 Z" fill="#0a0a0a"/>
<rect x="227.9" y="458.6" width="5.8" height="5.8" fill="#fff" stroke="#0a0a0a" stroke-width="1.9"/>
<path d="M233.7,458.6 L233.7,464.4 L227.9,464.4 Z" fill="#0a0a0a"/>
<rect x="237.3" y="444.1" width="5.8" height="5.8" fill="#fff" stroke="#0a0a0a" stroke-width="1.9"/>
<path d="M243.1,444.1 L243.1,449.9 L237.3,449.9 Z" fill="#0a0a0a"/>
<rect x="246.7" y="434.1" width="5.8" height="5.8" fill="#fff" stroke="#0a0a0a" stroke-width="1.9"/>
<path d="M252.5,434.1 L252.5,439.9 L246.7,439.9 Z" fill="#0a0a0a"/>
<rect x="256.0" y="424.7" width="5.8" height="5.8" fill="#fff" stroke="#0a0a0a" stroke-width="1.9"/>
<path d="M261.8,424.7 L261.8,430.5 L256.0,430.5 Z" fill="#0a0a0a"/>
<rect x="265.4" y="415.1" width="5.8" height="5.8" fill="#fff" stroke="#0a0a0a" stroke-width="1.9"/>
<path d="M271.2,415.1 L271.2,420.9 L265.4,420.9 Z" fill="#0a0a0a"/>
<rect x="274.8" y="406.1" width="5.8" height="5.8" fill="#fff" stroke="#0a0a0a" stroke-width="1.9"/>
<path d="M280.6,406.1 L280.6,411.9 L274.8,411.9 Z" fill="#0a0a0a"/>
<rect x="284.1" y="399.1" width="5.8" height="5.8" fill="#fff" stroke="#0a0a0a" stroke-width="1.9"/>
<path d="M289.9,399.1 L289.9,404.9 L284.1,404.9 Z" fill="#0a0a0a"/>
<rect x="293.5" y="397.1" width="5.8" height="5.8" fill="#fff" stroke="#0a0a0a" stroke-width="1.9"/>
<path d="M299.3,397.1 L299.3,402.9 L293.5,402.9 Z" fill="#0a0a0a"/>
<rect x="302.9" y="394.1" width="5.8" height="5.8" fill="#fff" stroke="#0a0a0a" stroke-width="1.9"/>
<path d="M308.7,394.1 L308.7,399.9 L302.9,399.9 Z" fill="#0a0a0a"/>
<rect x="312.3" y="366.1" width="5.8" height="5.8" fill="#fff" stroke="#0a0a0a" stroke-width="1.9"/>
<path d="M318.1,366.1 L318.1,371.9 L312.3,371.9 Z" fill="#0a0a0a"/>
<rect x="321.6" y="382.1" width="5.8" height="5.8" fill="#fff" stroke="#0a0a0a" stroke-width="1.9"/>
<path d="M327.4,382.1 L327.4,387.9 L321.6,387.9 Z" fill="#0a0a0a"/>
<rect x="331.0" y="382.7" width="5.8" height="5.8" fill="#fff" stroke="#0a0a0a" stroke-width="1.9"/>
<path d="M336.8,382.7 L336.8,388.5 L331.0,388.5 Z" fill="#0a0a0a"/>
<rect x="340.4" y="368.1" width="5.8" height="5.8" fill="#fff" stroke="#0a0a0a" stroke-width="1.9"/>
<path d="M346.2,368.1 L346.2,373.9 L340.4,373.9 Z" fill="#0a0a0a"/>
<rect x="349.7" y="380.1" width="5.8" height="5.8" fill="#fff" stroke="#0a0a0a" stroke-width="1.9"/>
<path d="M355.5,380.1 L355.5,385.9 L349.7,385.9 Z" fill="#0a0a0a"/>
<rect x="359.1" y="368.1" width="5.8" height="5.8" fill="#fff" stroke="#0a0a0a" stroke-width="1.9"/>
<path d="M364.9,368.1 L364.9,373.9 L359.1,373.9 Z" fill="#0a0a0a"/>
<rect x="368.5" y="375.1" width="5.8" height="5.8" fill="#fff" stroke="#0a0a0a" stroke-width="1.9"/>
<path d="M374.3,375.1 L374.3,380.9 L368.5,380.9 Z" fill="#0a0a0a"/>
<rect x="377.9" y="374.1" width="5.8" height="5.8" fill="#fff" stroke="#0a0a0a" stroke-width="1.9"/>
<path d="M383.7,374.1 L383.7,379.9 L377.9,379.9 Z" fill="#0a0a0a"/>
<rect x="406.0" y="375.1" width="5.8" height="5.8" fill="#fff" stroke="#0a0a0a" stroke-width="1.9"/>
<path d="M411.8,375.1 L411.8,380.9 L406.0,380.9 Z" fill="#0a0a0a"/>
<rect x="443.5" y="376.7" width="5.8" height="5.8" fill="#fff" stroke="#0a0a0a" stroke-width="1.9"/>
<path d="M449.3,376.7 L449.3,382.5 L443.5,382.5 Z" fill="#0a0a0a"/>
<rect x="471.6" y="371.5" width="5.8" height="5.8" fill="#fff" stroke="#0a0a0a" stroke-width="1.9"/>
<path d="M477.4,371.5 L477.4,377.3 L471.6,377.3 Z" fill="#0a0a0a"/>
<rect x="509.1" y="376.1" width="5.8" height="5.8" fill="#fff" stroke="#0a0a0a" stroke-width="1.9"/>
<path d="M514.9,376.1 L514.9,381.9 L509.1,381.9 Z" fill="#0a0a0a"/>
<rect x="105.7" y="375.6" width="6.7" height="6.7" fill="#0a0a0a" stroke="#0a0a0a" stroke-width="1.6"/>
<rect x="115.0" y="383.6" width="6.7" height="6.7" fill="#0a0a0a" stroke="#0a0a0a" stroke-width="1.6"/>
<rect x="124.4" y="384.6" width="6.7" height="6.7" fill="#0a0a0a" stroke="#0a0a0a" stroke-width="1.6"/>
<rect x="133.8" y="392.6" width="6.7" height="6.7" fill="#0a0a0a" stroke="#0a0a0a" stroke-width="1.6"/>
<rect x="143.1" y="378.6" width="6.7" height="6.7" fill="#0a0a0a" stroke="#0a0a0a" stroke-width="1.6"/>
<rect x="152.5" y="387.6" width="6.7" height="6.7" fill="#0a0a0a" stroke="#0a0a0a" stroke-width="1.6"/>
<rect x="161.9" y="392.6" width="6.7" height="6.7" fill="#0a0a0a" stroke="#0a0a0a" stroke-width="1.6"/>
<rect x="171.2" y="411.2" width="6.7" height="6.7" fill="#0a0a0a" stroke="#0a0a0a" stroke-width="1.6"/>
<rect x="180.6" y="440.6" width="6.7" height="6.7" fill="#0a0a0a" stroke="#0a0a0a" stroke-width="1.6"/>
<rect x="190.0" y="457.1" width="6.7" height="6.7" fill="#0a0a0a" stroke="#0a0a0a" stroke-width="1.6"/>
<rect x="199.4" y="475.1" width="6.7" height="6.7" fill="#0a0a0a" stroke="#0a0a0a" stroke-width="1.6"/>
<rect x="208.7" y="483.6" width="6.7" height="6.7" fill="#0a0a0a" stroke="#0a0a0a" stroke-width="1.6"/>
<rect x="218.1" y="473.8" width="6.7" height="6.7" fill="#0a0a0a" stroke="#0a0a0a" stroke-width="1.6"/>
<rect x="227.5" y="470.6" width="6.7" height="6.7" fill="#0a0a0a" stroke="#0a0a0a" stroke-width="1.6"/>
<rect x="236.8" y="447.6" width="6.7" height="6.7" fill="#0a0a0a" stroke="#0a0a0a" stroke-width="1.6"/>
<rect x="246.2" y="435.6" width="6.7" height="6.7" fill="#0a0a0a" stroke="#0a0a0a" stroke-width="1.6"/>
<rect x="255.6" y="429.6" width="6.7" height="6.7" fill="#0a0a0a" stroke="#0a0a0a" stroke-width="1.6"/>
<rect x="265.0" y="413.6" width="6.7" height="6.7" fill="#0a0a0a" stroke="#0a0a0a" stroke-width="1.6"/>
<rect x="274.3" y="404.6" width="6.7" height="6.7" fill="#0a0a0a" stroke="#0a0a0a" stroke-width="1.6"/>
<rect x="283.7" y="396.1" width="6.7" height="6.7" fill="#0a0a0a" stroke="#0a0a0a" stroke-width="1.6"/>
<rect x="293.1" y="386.6" width="6.7" height="6.7" fill="#0a0a0a" stroke="#0a0a0a" stroke-width="1.6"/>
<rect x="302.4" y="388.6" width="6.7" height="6.7" fill="#0a0a0a" stroke="#0a0a0a" stroke-width="1.6"/>
<rect x="311.8" y="390.2" width="6.7" height="6.7" fill="#0a0a0a" stroke="#0a0a0a" stroke-width="1.6"/>
<rect x="321.2" y="386.6" width="6.7" height="6.7" fill="#0a0a0a" stroke="#0a0a0a" stroke-width="1.6"/>
<rect x="330.6" y="396.6" width="6.7" height="6.7" fill="#0a0a0a" stroke="#0a0a0a" stroke-width="1.6"/>
<rect x="339.9" y="388.9" width="6.7" height="6.7" fill="#0a0a0a" stroke="#0a0a0a" stroke-width="1.6"/>
<rect x="349.3" y="383.6" width="6.7" height="6.7" fill="#0a0a0a" stroke="#0a0a0a" stroke-width="1.6"/>
<rect x="358.7" y="393.6" width="6.7" height="6.7" fill="#0a0a0a" stroke="#0a0a0a" stroke-width="1.6"/>
<rect x="368.0" y="390.2" width="6.7" height="6.7" fill="#0a0a0a" stroke="#0a0a0a" stroke-width="1.6"/>
<rect x="377.4" y="394.6" width="6.7" height="6.7" fill="#0a0a0a" stroke="#0a0a0a" stroke-width="1.6"/>
<rect x="405.5" y="375.0" width="6.7" height="6.7" fill="#0a0a0a" stroke="#0a0a0a" stroke-width="1.6"/>
<rect x="443.0" y="382.6" width="6.7" height="6.7" fill="#0a0a0a" stroke="#0a0a0a" stroke-width="1.6"/>
<rect x="471.1" y="378.2" width="6.7" height="6.7" fill="#0a0a0a" stroke="#0a0a0a" stroke-width="1.6"/>
<rect x="508.6" y="380.6" width="6.7" height="6.7" fill="#0a0a0a" stroke="#0a0a0a" stroke-width="1.6"/>
<line x1="99.8" y1="321.20" x2="108.8" y2="321.20" stroke="#0a0a0a" stroke-width="1.7"/>
<text x="98.6" y="327.8" font-size="18.4" text-anchor="end" textLength="42.5" lengthAdjust="spacingAndGlyphs">1000</text>
<line x1="99.8" y1="457.20" x2="108.8" y2="457.20" stroke="#0a0a0a" stroke-width="1.7"/>
<text x="98.6" y="463.8" font-size="18.4" text-anchor="end" textLength="32.0" lengthAdjust="spacingAndGlyphs">100</text>
<line x1="99.8" y1="593.20" x2="108.8" y2="593.20" stroke="#0a0a0a" stroke-width="1.7"/>
<text x="98.6" y="599.8" font-size="18.4" text-anchor="end" textLength="21.5" lengthAdjust="spacingAndGlyphs">10</text>
<line x1="108.8" y1="593.20" x2="108.8" y2="601.80" stroke="#0a0a0a" stroke-width="1.7"/>
<text x="108.8" y="622.4" font-size="18.4" text-anchor="middle" textLength="10.8" lengthAdjust="spacingAndGlyphs">0</text>
<line x1="174.4" y1="593.20" x2="174.4" y2="601.80" stroke="#0a0a0a" stroke-width="1.7"/>
<text x="174.4" y="622.4" font-size="18.4" text-anchor="middle" textLength="10.8" lengthAdjust="spacingAndGlyphs">7</text>
<line x1="240.0" y1="593.20" x2="240.0" y2="601.80" stroke="#0a0a0a" stroke-width="1.7"/>
<text x="240.0" y="622.4" font-size="18.4" text-anchor="middle" textLength="21.5" lengthAdjust="spacingAndGlyphs">14</text>
<line x1="305.6" y1="593.20" x2="305.6" y2="601.80" stroke="#0a0a0a" stroke-width="1.7"/>
<text x="305.6" y="622.4" font-size="18.4" text-anchor="middle" textLength="21.5" lengthAdjust="spacingAndGlyphs">21</text>
<line x1="371.2" y1="593.20" x2="371.2" y2="601.80" stroke="#0a0a0a" stroke-width="1.7"/>
<text x="371.2" y="622.4" font-size="18.4" text-anchor="middle" textLength="21.5" lengthAdjust="spacingAndGlyphs">28</text>
<line x1="436.8" y1="593.20" x2="436.8" y2="601.80" stroke="#0a0a0a" stroke-width="1.7"/>
<text x="436.8" y="622.4" font-size="18.4" text-anchor="middle" textLength="21.5" lengthAdjust="spacingAndGlyphs">35</text>
<line x1="502.4" y1="593.20" x2="502.4" y2="601.80" stroke="#0a0a0a" stroke-width="1.7"/>
<text x="502.4" y="622.4" font-size="18.4" text-anchor="middle" textLength="21.5" lengthAdjust="spacingAndGlyphs">42</text>
<text x="424.3" y="574.7" font-size="21.6" textLength="68.5" lengthAdjust="spacingAndGlyphs">G-CSF</text>
<text x="237" y="670.8" font-size="25.4" textLength="121.5" lengthAdjust="spacingAndGlyphs">time (day)</text>
<text transform="translate(29.4,417.8) rotate(-90)" font-size="25.4" textLength="270" lengthAdjust="spacingAndGlyphs">thrombocytes (x10<tspan dy="-8" font-size="24">9</tspan><tspan dy="8">/l)</tspan></text>
</svg></body></html>
